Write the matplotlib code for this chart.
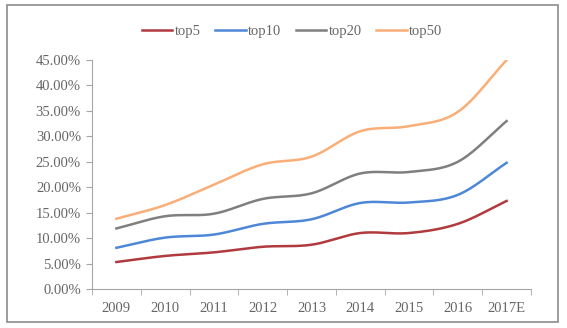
import numpy as np
import matplotlib.pyplot as plt
from matplotlib.patches import Rectangle
from matplotlib.ticker import FuncFormatter

years = ['2009', '2010', '2011', '2012', '2013', '2014', '2015', '2016', '2017E']
top5 = [5.3, 6.5, 7.2, 8.3, 8.7, 11.0, 11.0, 12.8, 17.3]
top10 = [8.1, 10.1, 10.7, 12.8, 13.7, 16.9, 17.0, 18.5, 24.8]
top20 = [11.9, 14.3, 14.8, 17.7, 18.8, 22.7, 23.0, 25.0, 33.0]
top50 = [13.8, 16.5, 20.5, 24.5, 26.0, 31.0, 32.0, 34.8, 45.0]

series = [('top5', top5, '#b03a3e'), ('top10', top10, '#4d87d6'),
          ('top20', top20, '#7f7f7f'), ('top50', top50, '#f9ae78')]


def smooth(y, n=30):
    # Catmull-Rom curve through the points, like Excel's smoothed lines
    y = np.asarray(y, float)
    x = np.arange(len(y), dtype=float)
    px = np.concatenate([[2 * x[0] - x[1]], x, [2 * x[-1] - x[-2]]])
    py = np.concatenate([[2 * y[0] - y[1]], y, [2 * y[-1] - y[-2]]])
    xs, ys = [], []
    t = np.linspace(0, 1, n, endpoint=False)
    for i in range(1, len(px) - 2):
        for p, out in ((px, xs), (py, ys)):
            p0, p1, p2, p3 = p[i - 1], p[i], p[i + 1], p[i + 2]
            out.extend(0.5 * (2 * p1 + (-p0 + p2) * t
                              + (2 * p0 - 5 * p1 + 4 * p2 - p3) * t ** 2
                              + (-p0 + 3 * p1 - 3 * p2 + p3) * t ** 3))
    xs.append(x[-1])
    ys.append(y[-1])
    return np.array(xs), np.array(ys)


plt.rcParams['font.family'] = 'Liberation Serif'
text_color = '#666666'

fig = plt.figure(figsize=(5.67, 3.28), dpi=100)
fig.patches.append(Rectangle((7 / 567, 6 / 328), 551 / 567, 317 / 328,
                             transform=fig.transFigure, fill=False,
                             edgecolor='#8c8c8c', linewidth=1.2))

ax = fig.add_axes([92 / 567, 39 / 328, 439 / 567, 229 / 328])
for name, vals, color in series:
    sx, sy = smooth(vals)
    ax.plot(sx, sy, color=color, linewidth=1.8, label=name)

ax.set_xlim(-0.5, len(years) - 0.5)
ax.set_ylim(0, 45)
ax.set_yticks(np.arange(0, 46, 5))
ax.yaxis.set_major_formatter(FuncFormatter(lambda v, _: f'{v:.2f}%'))
ax.set_xticks(np.arange(len(years)))
ax.set_xticklabels(years)
ax.set_xticks(np.arange(-0.5, len(years), 1), minor=True)
ax.tick_params(axis='x', which='major', length=0, pad=9, labelsize=10.5,
               labelcolor=text_color)
ax.tick_params(axis='x', which='minor', length=4, direction='out', color='#a6a6a6')
ax.tick_params(axis='y', length=4, direction='out', color='#a6a6a6', pad=4,
               labelsize=10.5, labelcolor=text_color)

for side in ['top', 'right']:
    ax.spines[side].set_visible(False)
for side in ['left', 'bottom']:
    ax.spines[side].set_color('#a6a6a6')

leg = fig.legend(loc='center', bbox_to_anchor=(292 / 567, 1 - 31 / 328), ncol=4,
                 frameon=False, fontsize=10.5, handlelength=2.1,
                 handletextpad=0.15, columnspacing=1.0, labelcolor=text_color)

fig.savefig('out.png', dpi=100)
